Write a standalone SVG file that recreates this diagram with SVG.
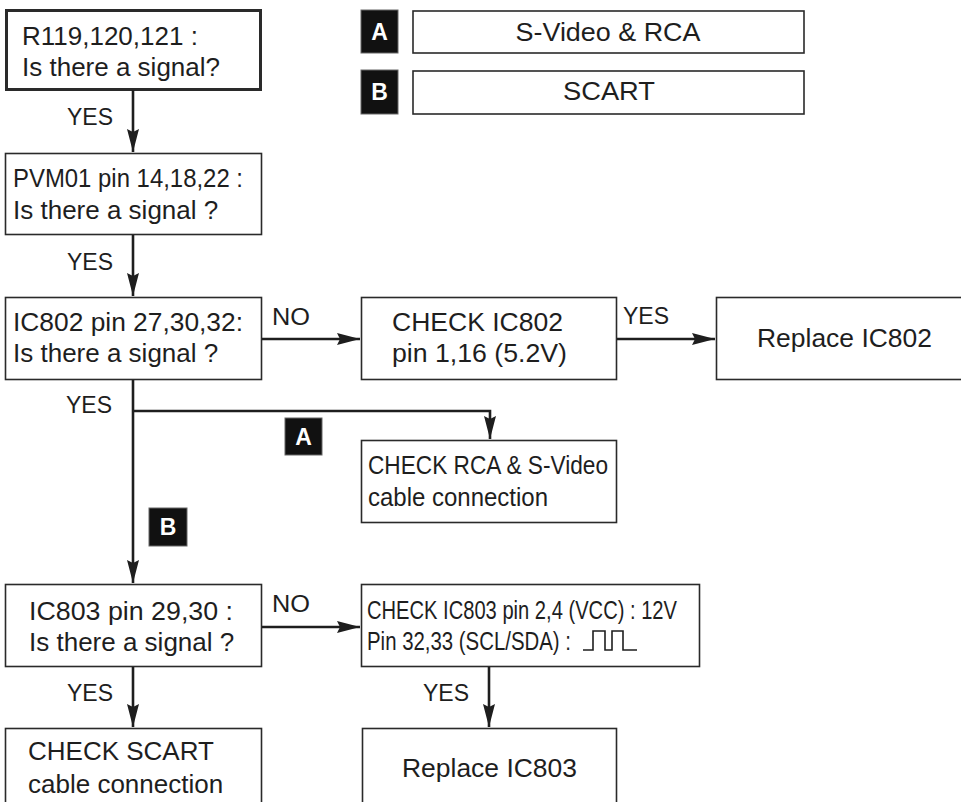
<svg xmlns="http://www.w3.org/2000/svg" width="961" height="802" viewBox="0 0 961 802">
<style>
  .box { fill: #fff; stroke: #2a2a2a; stroke-width: 1.6; }
  .thick { stroke-width: 3; }
  .t { font-family: "Liberation Sans", Arial, sans-serif; font-size: 26px; fill: #1e1e1e; }
  .lbl { font-family: "Liberation Sans", Arial, sans-serif; font-size: 23px; fill: #1e1e1e; }
  .tag { fill: #111; stroke: #666; stroke-width: 1; }
  .tagt { font-family: "Liberation Sans", Arial, sans-serif; font-size: 23px; font-weight: bold; fill: #fff; text-anchor: middle; }
  .wire { fill: none; stroke: #1e1e1e; stroke-width: 2.6; }
  .arrow { marker-end: url(#ah); }
</style>
<defs>
  <marker id="ah" markerUnits="userSpaceOnUse" markerWidth="24" markerHeight="14" refX="23" refY="6.5" orient="auto">
    <path d="M0,0.5 L23,6.5 L0,12.5 L3,6.5 Z" fill="#1e1e1e"/>
  </marker>
</defs>
<rect width="961" height="802" fill="#fff"/>

<g id="legend">
  <g id="legend-a">
    <rect class="tag" x="361" y="10" width="37" height="43"/>
    <text class="tagt" x="379.5" y="40">A</text>
    <rect class="box" x="413" y="11" width="391" height="42"/>
    <text class="t" x="608" y="41" text-anchor="middle" textLength="185" lengthAdjust="spacingAndGlyphs">S-Video &amp; RCA</text>
  </g>
  <g id="legend-b">
    <rect class="tag" x="361" y="70" width="37" height="44"/>
    <text class="tagt" x="379.5" y="100">B</text>
    <rect class="box" x="413" y="71" width="391" height="43"/>
    <text class="t" x="609" y="100" text-anchor="middle" textLength="92" lengthAdjust="spacingAndGlyphs">SCART</text>
  </g>
</g>

<g id="n1">
  <rect class="box thick" x="6.5" y="10.5" width="254" height="79"/>
  <text class="t" x="22" y="45">R119,120,121 :</text>
  <text class="t" x="22" y="76">Is there a signal?</text>
</g>

<g id="n2">
  <rect class="box" x="5.5" y="153.5" width="256" height="81"/>
  <text class="t" x="13" y="187" textLength="230" lengthAdjust="spacingAndGlyphs">PVM01 pin 14,18,22 :</text>
  <text class="t" x="13" y="219">Is there a signal ?</text>
</g>

<g id="n3">
  <rect class="box" x="5.5" y="297.5" width="256" height="82"/>
  <text class="t" x="13" y="331" textLength="230" lengthAdjust="spacingAndGlyphs">IC802 pin 27,30,32:</text>
  <text class="t" x="13" y="362">Is there a signal ?</text>
</g>

<g id="n4">
  <rect class="box" x="361.5" y="297.5" width="255" height="82"/>
  <text class="t" x="392" y="331" textLength="171" lengthAdjust="spacingAndGlyphs">CHECK IC802</text>
  <text class="t" x="392" y="362" textLength="175" lengthAdjust="spacingAndGlyphs">pin 1,16 (5.2V)</text>
</g>

<g id="n5">
  <rect class="box" x="716.5" y="297.5" width="250" height="82"/>
  <text class="t" x="757" y="347" textLength="175" lengthAdjust="spacingAndGlyphs">Replace IC802</text>
</g>

<g id="n6">
  <rect class="box" x="361.5" y="440.5" width="255" height="82"/>
  <text class="t" x="368" y="474" textLength="240" lengthAdjust="spacingAndGlyphs">CHECK RCA &amp; S-Video</text>
  <text class="t" x="368" y="506" textLength="180" lengthAdjust="spacingAndGlyphs">cable connection</text>
</g>

<g id="n7">
  <rect class="box" x="5.5" y="584.5" width="256" height="82"/>
  <text class="t" x="29" y="620" textLength="204" lengthAdjust="spacingAndGlyphs">IC803 pin 29,30 :</text>
  <text class="t" x="29" y="651">Is there a signal ?</text>
</g>

<g id="n8">
  <rect class="box" x="361.5" y="584.5" width="338" height="82"/>
  <text class="t" x="367" y="619" textLength="310" lengthAdjust="spacingAndGlyphs">CHECK IC803 pin 2,4 (VCC) : 12V</text>
  <text class="t" x="367" y="650" textLength="204" lengthAdjust="spacingAndGlyphs">Pin 32,33 (SCL/SDA) :</text>
  <path d="M583,650 H593 V631 H605 V650 H612 V631 H623 V650 H637" fill="none" stroke="#1e1e1e" stroke-width="1.6"/>
</g>

<g id="n9">
  <rect class="box" x="5.5" y="728.5" width="256" height="100"/>
  <text class="t" x="28" y="760">CHECK SCART</text>
  <text class="t" x="28" y="793">cable connection</text>
</g>

<g id="n10">
  <rect class="box" x="362.5" y="728.5" width="254" height="100"/>
  <text class="t" x="402" y="777" textLength="175" lengthAdjust="spacingAndGlyphs">Replace IC803</text>
</g>

<g id="connectors">
  <line class="wire arrow" x1="133" y1="90" x2="133" y2="152"/>
  <line class="wire arrow" x1="133" y1="235" x2="133" y2="296"/>
  <line class="wire arrow" x1="262" y1="339" x2="360" y2="339"/>
  <line class="wire arrow" x1="617" y1="339" x2="715" y2="339"/>
  <line class="wire arrow" x1="133" y1="380" x2="133" y2="583"/>
  <polyline class="wire arrow" points="134,411 490,411 490,439"/>
  <line class="wire arrow" x1="262" y1="627" x2="360" y2="627"/>
  <line class="wire arrow" x1="133" y1="667" x2="133" y2="727"/>
  <line class="wire arrow" x1="489" y1="667" x2="489" y2="727"/>
</g>

<g id="labels">
  <text class="lbl" x="67" y="125">YES</text>
  <text class="lbl" x="67" y="270">YES</text>
  <text class="lbl" x="272" y="325" textLength="38" lengthAdjust="spacingAndGlyphs">NO</text>
  <text class="lbl" x="623" y="324">YES</text>
  <text class="lbl" x="66" y="413">YES</text>
  <rect class="tag" x="285" y="418" width="37" height="37"/>
  <text class="tagt" x="303.5" y="444.5">A</text>
  <rect class="tag" x="149" y="508" width="38" height="38"/>
  <text class="tagt" x="168" y="535">B</text>
  <text class="lbl" x="272" y="612" textLength="38" lengthAdjust="spacingAndGlyphs">NO</text>
  <text class="lbl" x="67" y="701">YES</text>
  <text class="lbl" x="423" y="701">YES</text>
</g>
</svg>
